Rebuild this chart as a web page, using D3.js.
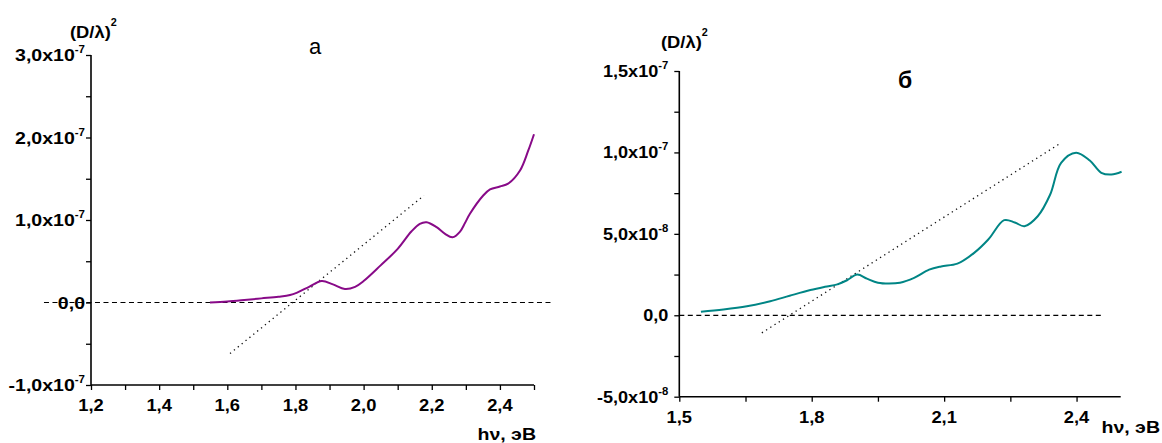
<!DOCTYPE html>
<html>
<head>
<meta charset="utf-8">
<script src="https://cdn.jsdelivr.net/npm/d3@7"></script>
<style>
  html, body { margin: 0; padding: 0; background: #fff; }
  svg { display: block; }
  text { font-family: Arial, "Liberation Sans", sans-serif; fill: #000; }
</style>
</head>
<body>
<svg id="chart" width="1162" height="443"></svg>
<script>
// Panel "a": photon energy (eV) and (D/λ)² in units of 1e-7
const aEnergy = [1.549, 1.60, 1.65, 1.70, 1.75, 1.784, 1.805, 1.84, 1.877, 1.91, 1.945, 1.975, 2.0, 2.05, 2.10, 2.14, 2.165, 2.185, 2.214, 2.239, 2.261, 2.283, 2.297, 2.312, 2.351, 2.371, 2.40, 2.424, 2.459, 2.483, 2.50];
const aValue  = [0.0, 0.012, 0.03, 0.05, 0.07, 0.09, 0.12, 0.19, 0.26, 0.22, 0.165, 0.19, 0.26, 0.45, 0.65, 0.86, 0.954, 0.973, 0.913, 0.832, 0.79, 0.86, 0.96, 1.075, 1.297, 1.37, 1.406, 1.44, 1.60, 1.84, 2.04];
const aTangentX = [1.608, 2.177];
const aTangentY = [-0.618, 1.297];
const aBaseX = [1.062, 2.556];

// Panel "б"
const bEnergy = [1.549, 1.60, 1.653, 1.706, 1.75, 1.797, 1.83, 1.858, 1.88, 1.903, 1.925, 1.95, 1.975, 2.0, 2.032, 2.066, 2.093, 2.13, 2.168, 2.20, 2.236, 2.26, 2.282, 2.312, 2.34, 2.365, 2.399, 2.43, 2.456, 2.479, 2.502];
const bValue  = [0.021, 0.035, 0.055, 0.086, 0.12, 0.155, 0.175, 0.19, 0.215, 0.25, 0.225, 0.20, 0.195, 0.20, 0.23, 0.28, 0.30, 0.317, 0.383, 0.465, 0.584, 0.57, 0.547, 0.608, 0.74, 0.936, 0.998, 0.95, 0.875, 0.864, 0.881];
const bTangentX = [1.687, 2.365];
const bTangentY = [-0.108, 1.059];
const bBaseX = [1.5, 2.46];

// Tick labels
const aXTicks = [1.2, 1.4, 1.6, 1.8, 2.0, 2.2, 2.4];
const aXTickLabels = ["1,2", "1,4", "1,6", "1,8", "2,0", "2,2", "2,4"];
const aYTicks = [-1, 0, 1, 2, 3];
const aYTickLabels = [["-1,0x10", "-7"], ["0,0", ""], ["1,0x10", "-7"], ["2,0x10", "-7"], ["3,0x10", "-7"]];
const bXTicks = [1.5, 1.8, 2.1, 2.4];
const bXTickLabels = ["1,5", "1,8", "2,1", "2,4"];
const bYTicks = [-0.5, 0, 0.5, 1.0, 1.5];
const bYTickLabels = [["-5,0x10", "-8"], ["0,0", ""], ["5,0x10", "-8"], ["1,0x10", "-7"], ["1,5x10", "-7"]];

const svg = d3.select("#chart");

// text placed at (x, y) and widened horizontally by factor s
function wideText(sel, x, y, s) {
  return sel.append("text").attr("transform", `translate(${x},${y}) scale(${s},1)`);
}

function panel(cfg) {
  const x = d3.scaleLinear().domain(cfg.xDomain).range(cfg.xRange);
  const y = d3.scaleLinear().domain(cfg.yDomain).range(cfg.yRange);
  const g = svg.append("g");

  // ticks (major and minor share one length)
  const xMinor = d3.range(cfg.xDomain[0], cfg.xDomain[1] + 1e-9, cfg.xMinorStep);
  const yMinor = d3.range(cfg.yDomain[0], cfg.yDomain[1] + 1e-9, cfg.yMinorStep);

  const xAxis = d3.axisBottom(x).tickValues(xMinor).tickSize(5).tickFormat("");
  const yAxis = d3.axisLeft(y).tickValues(yMinor).tickSize(5).tickFormat("");

  const gx = g.append("g").attr("transform", `translate(0,${cfg.yRange[0]})`).call(xAxis);
  const gy = g.append("g").attr("transform", `translate(${cfg.xRange[0]},0)`).call(yAxis);
  [gx, gy].forEach(a => {
    a.select(".domain").attr("stroke", "#000").attr("stroke-width", 1.6);
    a.selectAll(".tick line").attr("stroke", "#000").attr("stroke-width", 1.3);
  });
  gx.select(".domain").attr("d", `M${cfg.xRange[0]},0H${cfg.xRange[1]}`);
  gy.select(".domain").attr("d", `M0,${cfg.yRange[0]}V${cfg.yRange[1]}`);

  // x tick labels
  cfg.xTicks.forEach((d, i) => {
    wideText(g, x(d), cfg.xLabelY, 1.08)
      .attr("text-anchor", "middle")
      .style("font-size", "17px").style("font-weight", "bold")
      .text(cfg.xTickLabels[i]);
  });

  // y tick labels with exponent
  cfg.yTicks.forEach((d, i) => {
    const t = wideText(g, cfg.xRange[0] - cfg.yLabelGap, y(d) + 6, cfg.yLabelStretch)
      .attr("text-anchor", "end")
      .style("font-size", cfg.yLabelSize).style("font-weight", "bold");
    t.append("tspan").text(cfg.yTickLabels[i][0]);
    t.append("tspan").attr("dy", -8).style("font-size", "10px").text(cfg.yTickLabels[i][1]);
  });

  // zero baseline
  g.append("path")
    .attr("d", d3.line()(cfg.baseX.map(v => [x(v), y(0)])))
    .attr("stroke", "#000").attr("stroke-width", 1.2)
    .attr("stroke-dasharray", "5,3.5").attr("fill", "none");

  // tangent
  g.append("path")
    .attr("d", d3.line()(cfg.tanX.map((v, i) => [x(v), y(cfg.tanY[i])])))
    .attr("stroke", "#111").attr("stroke-width", 1.3)
    .attr("stroke-dasharray", "1.3,3.7").attr("fill", "none");

  // spectrum curve
  const line = d3.line().x(d => x(d[0])).y(d => y(d[1])).curve(d3.curveCatmullRom.alpha(0.5));
  g.append("path")
    .datum(cfg.xs.map((v, i) => [v, cfg.ys[i]]))
    .attr("d", line)
    .attr("stroke", cfg.color).attr("stroke-width", 2).attr("fill", "none");

  // axis titles
  const yt = wideText(g, cfg.yTitle[0], cfg.yTitle[1], 1.08)
    .style("font-size", "17px").style("font-weight", "bold");
  yt.append("tspan").text("(D/λ)");
  yt.append("tspan").attr("dy", -12).style("font-size", "10px").text("2");

  wideText(g, cfg.xTitle[0], cfg.xTitle[1], 1.15)
    .attr("text-anchor", "end")
    .style("font-size", "17px").style("font-weight", "bold")
    .text("hν, эВ");

  g.append("text").attr("x", cfg.title[0]).attr("y", cfg.title[1])
    .attr("text-anchor", "middle")
    .style("font-size", cfg.titleSize).style("font-weight", cfg.titleWeight)
    .text(cfg.titleText);
}

panel({
  xDomain: [1.2, 2.5], xRange: [91, 534],
  yDomain: [-1, 3], yRange: [385, 55],
  xMinorStep: 0.1, yMinorStep: 0.5,
  xTicks: aXTicks, xTickLabels: aXTickLabels, xLabelY: 410.5,
  yTicks: aYTicks, yTickLabels: aYTickLabels, yLabelGap: 6,
  yLabelSize: "17px", yLabelStretch: 1.15,
  baseX: aBaseX, tanX: aTangentX, tanY: aTangentY,
  xs: aEnergy, ys: aValue, color: "#880a88",
  yTitle: [70, 38], xTitle: [536, 440],
  title: [315, 54], titleSize: "22px", titleWeight: "normal", titleText: "а"
});

panel({
  xDomain: [1.5, 2.5], xRange: [679.3, 1120.7],
  yDomain: [-0.5, 1.5], yRange: [396.7, 71],
  xMinorStep: 0.15, yMinorStep: 0.25,
  xTicks: bXTicks, xTickLabels: bXTickLabels, xLabelY: 422.5,
  yTicks: bYTicks, yTickLabels: bYTickLabels, yLabelGap: 11,
  yLabelSize: "16px", yLabelStretch: 1.13,
  baseX: bBaseX, tanX: bTangentX, tanY: bTangentY,
  xs: bEnergy, ys: bValue, color: "#008585",
  yTitle: [661, 48], xTitle: [1160, 432.5],
  title: [905, 88], titleSize: "23px", titleWeight: "bold", titleText: "б"
});
</script>
</body>
</html>
